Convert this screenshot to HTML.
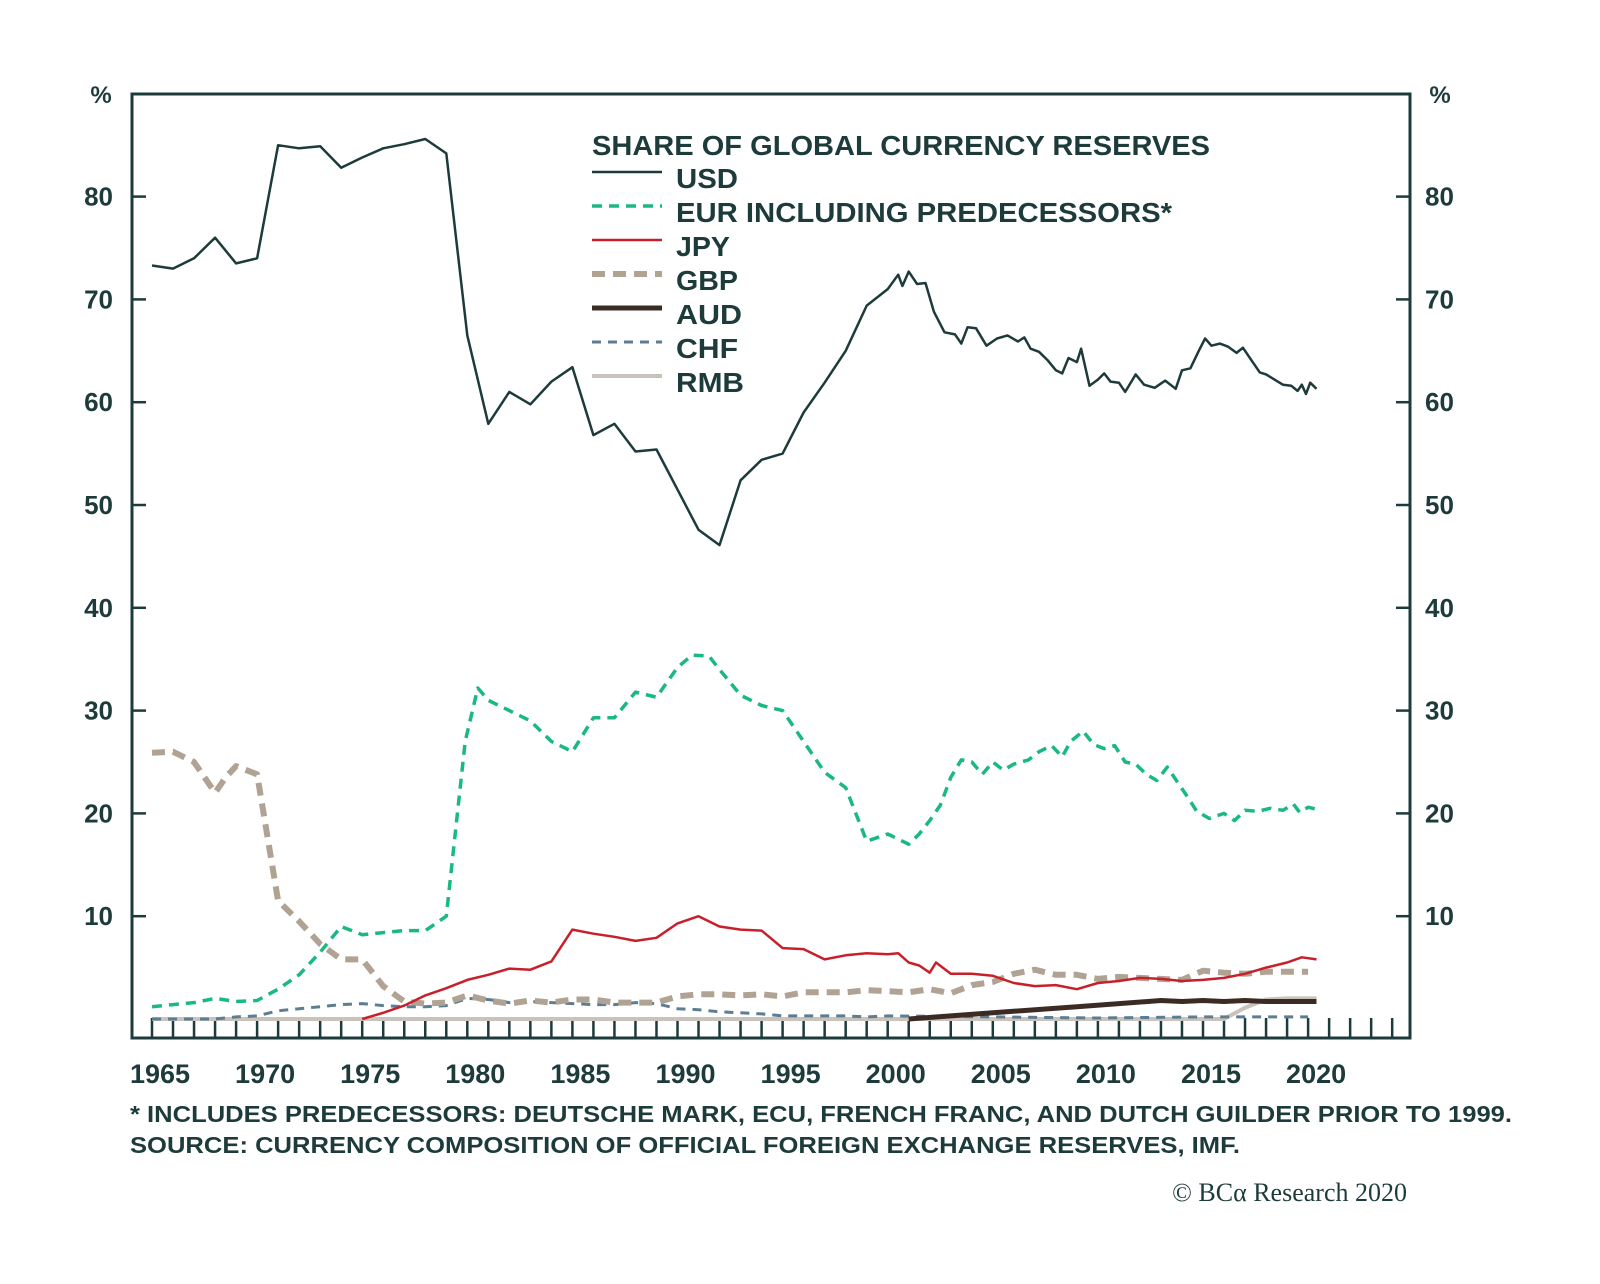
<!DOCTYPE html>
<html><head><meta charset="utf-8"><style>
html,body{margin:0;padding:0;background:#fff;}
svg{display:block;}
text{font-family:"Liberation Sans",sans-serif;fill:#1e3b3c;font-weight:bold;}
</style></head><body>
<svg id="chart" width="1600" height="1284" viewBox="0 0 1600 1284" xmlns="http://www.w3.org/2000/svg">
<g id="grid"></g>
<g id="series"></g>
<g id="legend"></g>
<text x="130" y="1122" font-size="23" textLength="1382" lengthAdjust="spacingAndGlyphs">* INCLUDES PREDECESSORS: DEUTSCHE MARK, ECU, FRENCH FRANC, AND DUTCH GUILDER PRIOR TO 1999.</text>
<text x="130" y="1153" font-size="23" textLength="1110" lengthAdjust="spacingAndGlyphs">SOURCE: CURRENCY COMPOSITION OF OFFICIAL FOREIGN EXCHANGE RESERVES, IMF.</text>
<text x="1407" y="1201" font-size="26" text-anchor="end" style="font-family:'Liberation Serif',serif;font-weight:normal">© BCα Research 2020</text>
</svg>
<script>
const yTicks=[10,20,30,40,50,60,70,80];
const xLabels=[1965,1970,1975,1980,1985,1990,1995,2000,2005,2010,2015,2020];
const usdYears=[1965,1966,1967,1968,1969,1970,1971,1972,1973,1974,1975,1976,1977,1978,1979,1980,1981,1982,1983,1984,1985,1986,1987,1988,1989,1990,1991,1992,1993,1994,1995,1996,1997,1998,1999,2000,2000.5,2000.7,2001,2001.4,2001.8,2002.2,2002.7,2003.2,2003.5,2003.8,2004.2,2004.7,2005.2,2005.7,2006.2,2006.5,2006.8,2007.2,2007.6,2008,2008.3,2008.6,2009,2009.2,2009.6,2010,2010.3,2010.6,2011,2011.3,2011.8,2012.2,2012.7,2013.2,2013.7,2014,2014.4,2014.8,2015.1,2015.4,2015.8,2016.2,2016.6,2016.9,2017.3,2017.7,2018,2018.4,2018.8,2019.2,2019.5,2019.7,2019.9,2020.1,2020.4];
const usdValues=[73.3,73,74,76,73.5,74,85,84.7,84.9,82.8,83.8,84.7,85.1,85.6,84.2,66.5,57.9,61,59.8,62,63.4,56.8,57.9,55.2,55.4,51.5,47.6,46.1,52.4,54.4,55,59,61.9,65,69.4,71,72.4,71.3,72.7,71.5,71.6,68.8,66.8,66.6,65.7,67.3,67.2,65.5,66.2,66.5,65.9,66.3,65.2,64.9,64.1,63.1,62.8,64.3,63.9,65.2,61.6,62.2,62.8,62,61.9,61,62.7,61.7,61.4,62.1,61.3,63.1,63.3,65,66.2,65.5,65.7,65.4,64.8,65.3,64.1,62.9,62.7,62.2,61.7,61.6,61.1,61.7,60.8,61.9,61.3];
const eurYears=[1965,1966,1967,1968,1969,1970,1971,1972,1973,1974,1975,1976,1977,1978,1979,1979.9,1980.5,1981,1982,1983,1984,1985,1986,1987,1988,1989,1990,1990.7,1991.5,1992,1993,1994,1995,1996,1997,1998,1999,2000,2000.5,2001,2001.5,2002,2002.5,2003,2003.5,2004,2004.5,2005,2005.5,2006,2006.7,2007.2,2007.8,2008.3,2008.7,2009.3,2009.8,2010.3,2010.8,2011.3,2011.8,2012.3,2012.8,2013.3,2013.8,2014.3,2014.7,2015.3,2016,2016.5,2017,2017.6,2018.2,2018.8,2019.3,2019.6,2020,2020.4];
const eurValues=[1.2,1.4,1.6,2,1.7,1.8,2.9,4.3,6.5,9,8.2,8.4,8.6,8.6,10,27,32.2,31,30,29,27,26,29.3,29.3,31.8,31.3,34.2,35.4,35.3,34,31.5,30.5,30,27,24,22.5,17.3,18,17.5,17,18,19.3,20.8,23.5,25.2,25,23.8,25,24.2,24.8,25.2,26,26.6,25.5,27,28,26.7,26.3,26.6,25,24.8,23.8,23.2,24.5,23,21.5,20.2,19.5,20,19.3,20.3,20.2,20.5,20.3,20.9,20.1,20.6,20.4];
const gbpYears=[1965,1966,1967,1968,1968.5,1969,1970,1971,1972,1973,1974,1975,1976,1977,1978,1979,1980,1981,1982,1983,1984,1985,1986,1987,1988,1989,1990,1991,1992,1993,1994,1995,1996,1997,1998,1999,2000,2001,2002,2003,2004,2005,2006,2007,2008,2009,2010,2011,2012,2013,2014,2015,2016,2017,2018,2019,2020];
const gbpValues=[25.9,26,25,22,23.5,24.6,23.8,11.5,9.5,7.3,5.8,5.8,3.2,1.7,1.5,1.6,2.3,1.8,1.5,1.8,1.6,1.9,1.9,1.6,1.6,1.6,2.2,2.4,2.4,2.3,2.4,2.2,2.6,2.6,2.6,2.8,2.7,2.6,2.9,2.5,3.3,3.6,4.4,4.8,4.3,4.3,3.9,4.1,4,3.9,3.8,4.7,4.5,4.4,4.6,4.6,4.6];
const jpyYears=[1975,1976,1977,1978,1979,1980,1981,1982,1983,1984,1985,1986,1987,1988,1989,1990,1991,1992,1993,1994,1995,1996,1997,1998,1999,2000,2000.5,2001,2001.5,2002,2002.3,2003,2004,2005,2006,2007,2008,2009,2010,2011,2012,2013,2014,2015,2016,2017,2018,2019,2019.7,2020.4];
const jpyValues=[0,0.6,1.3,2.3,3,3.8,4.3,4.9,4.8,5.6,8.7,8.3,8,7.6,7.9,9.3,10,9,8.7,8.6,6.9,6.8,5.8,6.2,6.4,6.3,6.4,5.5,5.2,4.5,5.5,4.4,4.4,4.2,3.5,3.2,3.3,2.9,3.5,3.7,4,3.9,3.7,3.8,4,4.4,5,5.5,6,5.8];
const chfYears=[1965,1968,1969,1970,1971,1972,1973,1974,1975,1976,1977,1978,1979,1980,1981,1982,1983,1984,1985,1986,1987,1988,1989,1990,1991,1992,1993,1994,1995,1996,1997,1998,1999,2000,2005,2010,2015,2020];
const chfValues=[0,0,0.2,0.3,0.8,1,1.2,1.4,1.5,1.3,1.2,1.2,1.3,2,1.9,1.6,1.7,1.6,1.5,1.4,1.4,1.6,1.5,1,0.9,0.7,0.6,0.5,0.3,0.3,0.3,0.3,0.2,0.3,0.2,0.1,0.2,0.2];
const rmbYears=[1965,2016,2017,2018,2019,2020.4];
const rmbValues=[0,0,1.1,1.9,2,2];
const audYears=[2001,2005,2009,2013,2014,2015,2016,2017,2018,2019,2020.4];
const audValues=[0,0.6,1.2,1.8,1.7,1.8,1.7,1.8,1.7,1.7,1.7];

const L=132,R=1410,T=94,B=1038;
const X=yr=>152+(yr-1965)*21.02;
const Y=v=>1019-v*10.28;
const NS='http://www.w3.org/2000/svg';
function mk(tag,attrs,parent){const e=document.createElementNS(NS,tag);for(const k in attrs)e.setAttribute(k,attrs[k]);parent.appendChild(e);return e;}
const grid=document.getElementById('grid'),ser=document.getElementById('series'),leg=document.getElementById('legend');
const ax='#1e3b3c';
const frame=mk('rect',{x:L,y:T,width:R-L,height:B-T,fill:'none',stroke:ax,'stroke-width':3},grid);


yTicks.forEach(v=>{
  const t1=mk('line',{x1:L,x2:L+14,y1:Y(v),y2:Y(v),stroke:ax,'stroke-width':2.5},grid);
  
  
  const t2=mk('line',{x1:R-14,x2:R,y1:Y(v),y2:Y(v),stroke:ax,'stroke-width':2.5},grid);
  
  
  const a=mk('text',{x:113,y:Y(v)+9,'font-size':26,'text-anchor':'end'},grid);a.textContent=v;
  
  
  const b=mk('text',{x:1425,y:Y(v)+9,'font-size':26},grid);b.textContent=v;
  
  
});
for(let yr=1965;yr<=2024;yr++){
  const tk=mk('line',{x1:X(yr),x2:X(yr),y1:1018,y2:B,stroke:ax,'stroke-width':2.5},grid);
  
  
}
xLabels.forEach(yr=>{
  const t=mk('text',{x:X(yr)+8,y:1083,'font-size':27,'text-anchor':'middle'},grid);t.textContent=yr;
  
  
});
const p1=mk('text',{x:101,y:103,'font-size':24,'text-anchor':'middle'},grid);p1.textContent='%';


const p2=mk('text',{x:1440,y:103,'font-size':24,'text-anchor':'middle'},grid);p2.textContent='%';



const styles={
 RMB:{c:'#c9c3bc',w:4,d:''},
 CHF:{c:'#5d7d92',w:3,d:'9 7'},
 AUD:{c:'#3b2b24',w:5,d:''},
 GBP:{c:'#b0a394',w:6,d:'13 8'},
 JPY:{c:'#c8202a',w:2.5,d:''},
 EUR:{c:'#1ab884',w:3.5,d:'10 7'},
 USD:{c:'#1e3b3c',w:2.5,d:''}
};
function draw(name,ys,vs){
  const s=styles[name];
  const d=ys.map((yr,i)=>(i?'L':'M')+X(yr).toFixed(1)+' '+Y(vs[i]).toFixed(1)).join(' ');
  const p=mk('path',{d:d,fill:'none',stroke:s.c,'stroke-width':s.w,'stroke-dasharray':s.d,'stroke-linejoin':'round'},ser);
  
  
}
draw('RMB',rmbYears,rmbValues);
draw('CHF',chfYears,chfValues);
draw('AUD',audYears,audValues);
draw('GBP',gbpYears,gbpValues);
draw('JPY',jpyYears,jpyValues);
draw('EUR',eurYears,eurValues);
draw('USD',usdYears,usdValues);

const lt=mk('text',{x:592,y:155,'font-size':28,textLength:618,lengthAdjust:'spacingAndGlyphs'},leg);lt.textContent='SHARE OF GLOBAL CURRENCY RESERVES';


const entries=[['USD','USD',62],['EUR','EUR INCLUDING PREDECESSORS*',496],['JPY','JPY',54],['GBP','GBP',62],['AUD','AUD',66],['CHF','CHF',62],['RMB','RMB',68]];
entries.forEach((e,i)=>{
  const s=styles[e[0]],yy=172+i*34;
  const ln=mk('line',{x1:592,x2:662,y1:yy,y2:yy,stroke:s.c,'stroke-width':s.w,'stroke-dasharray':s.d},leg);
  
  
  const t=mk('text',{x:676,y:yy+16,'font-size':28,textLength:e[2],lengthAdjust:'spacingAndGlyphs'},leg);t.textContent=e[1];
  
  
});
</script>
</body></html>
